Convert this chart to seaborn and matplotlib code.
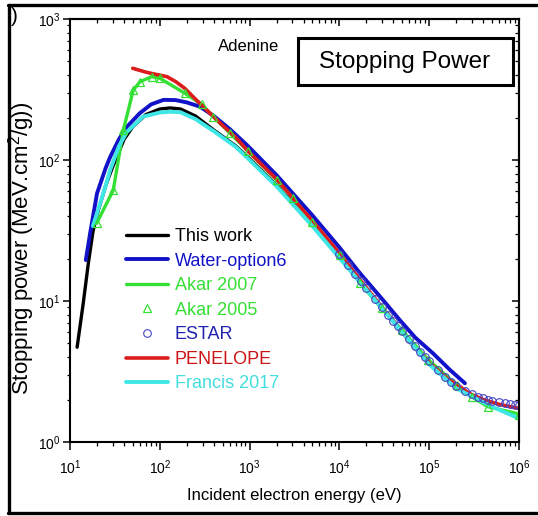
import matplotlib
matplotlib.use("Agg")
import matplotlib.pyplot as plt
import seaborn as sns
from matplotlib.patches import Rectangle
from matplotlib.lines import Line2D
from matplotlib.ticker import LogLocator, NullFormatter

# ---------------- data ----------------
this_work_e = [12, 14, 16, 18, 20, 25, 30, 40, 50, 70, 100, 130, 170, 250, 400, 700,
               1000, 2000, 5000, 1e4, 2e4, 5e4, 1e5, 2e5]
this_work_sp = [4.7, 9.5, 18.5, 31, 41, 66, 90, 140, 172, 210, 230, 234, 230, 205, 163, 126,
                102, 66, 34.5, 20.5, 12.2, 6.1, 3.65, 2.45]

water_e = [15, 17, 20, 25, 28, 35, 43, 60, 80, 110, 150, 200, 280, 400, 600, 930,
           2000, 5000, 1e4, 1.7e4, 3e4, 4.7e4, 7e4, 1.1e5, 1.7e5, 2.5e5]
water_sp = [19.5, 32, 58, 88, 105, 140, 172, 215, 248, 267, 266, 256, 239, 205, 166, 128,
            78, 40.5, 24, 15.7, 10.3, 7.33, 5.5, 4.26, 3.25, 2.61]

akar2007_e = [19.8, 30.3, 39.3, 50.7, 60.2, 81.3, 100, 191, 293, 394, 605, 968, 2000,
              3070, 4910, 1.02e4, 1.69e4, 2.96e4, 4.94e4, 9.77e4, 2.02e5, 2.97e5, 4.5e5, 1e6]
akar2007_sp = [35.6, 61, 163, 314, 359, 390, 380, 297, 248, 203, 155, 115, 72,
               53.5, 36.5, 21.2, 13.4, 8.87, 6.23, 3.82, 2.55, 2.09, 1.78, 1.58]

akar2005_e = [19.8, 30.3, 39.3, 50.7, 60.2, 81.3, 100, 191, 293, 394, 605, 968, 2000,
              3070, 4910, 1.02e4, 1.69e4, 2.96e4, 4.94e4, 9.77e4, 2.02e5, 2.97e5, 4.5e5, 1e6]
akar2005_sp = [35.6, 61, 163, 314, 359, 390, 380, 297, 248, 203, 155, 115, 72,
               53.5, 36.5, 21.2, 13.4, 8.87, 6.23, 3.82, 2.55, 2.09, 1.76, 1.55]

estar_e = [1e4, 1.25e4, 1.5e4, 1.75e4, 2e4, 2.5e4, 3e4, 3.5e4, 4e4, 4.5e4, 5e4, 6e4, 7e4,
           8e4, 9e4, 1e5, 1.25e5, 1.5e5, 1.75e5, 2e5, 2.5e5, 3e5, 3.5e5, 4e5, 4.5e5, 5e5,
           6e5, 7e5, 8e5, 9e5, 1e6]
estar_sp = [21.5, 18.0, 15.5, 13.8, 12.4, 10.4, 9.0, 8.0, 7.2, 6.6, 6.1, 5.35, 4.8,
            4.35, 4.0, 3.75, 3.25, 2.9, 2.65, 2.5, 2.3, 2.2, 2.1, 2.04, 1.99, 1.96,
            1.91, 1.88, 1.86, 1.84, 1.83]

penelope_e = [50, 60, 70, 85, 100, 120, 150, 190, 250, 333, 500, 700, 930, 2000, 5000,
              1e4, 1.7e4, 3e4, 4.7e4, 7e4, 1.1e5, 1.6e5, 2.2e5, 2.8e5, 4e5, 6e5, 1e6]
penelope_sp = [447, 432, 420, 408, 400, 390, 360, 322, 270, 226, 176, 145, 118, 73, 37,
               21.8, 14.1, 9.0, 6.3, 4.6, 3.45, 2.8, 2.47, 2.21, 2.0, 1.85, 1.73]

francis_e = [18, 20, 25, 28, 35, 43, 65, 100, 130, 170, 250, 400, 700, 1000, 2000, 5000,
             1e4, 2e4, 5e4, 1e5, 2e5, 3e5, 5e5, 1e6]
francis_sp = [34, 42, 66, 85, 125, 158, 203, 217, 220, 218, 195, 160, 124, 100, 65, 34,
              20.2, 12.0, 6.0, 3.55, 2.4, 2.1, 1.78, 1.47]

labels = ["This work", "Water-option6", "Akar 2007", "Akar 2005", "ESTAR",
          "PENELOPE", "Francis 2017"]
x_label = "Incident electron energy (eV)"
y_label = "Stopping power (MeV.cm$^2$/g))"
material = "Adenine"
panel_title = "Stopping Power"

# ---------------- style ----------------
sns.set_style("white", {"axes.edgecolor": "black", "xtick.color": "black",
                        "ytick.color": "black", "text.color": "black",
                        "axes.labelcolor": "black"})
plt.rcParams["font.family"] = ["Liberation Sans", "DejaVu Sans"]
plt.rcParams["mathtext.fontset"] = "custom"
plt.rcParams["mathtext.rm"] = "Liberation Sans"
plt.rcParams["mathtext.it"] = "Liberation Sans:italic"
plt.rcParams["mathtext.bf"] = "Liberation Sans:bold"

C_BLACK = "#000000"
C_BLUE = "#1212c8"
C_GREEN = "#33e033"
C_RED = "#dc1c1c"
C_CYAN = "#3fe6e6"
C_ESTAR = "#4444c4"

W, H = 538, 516
fig = plt.figure(figsize=(W / 100, H / 100), dpi=100)
ax = fig.add_axes([70 / W, 1 - 442 / H, 449 / W, 423 / H])
ax.set_xscale("log")
ax.set_yscale("log")

LW = 2.4
sns.lineplot(x=this_work_e, y=this_work_sp, ax=ax, color=C_BLACK, lw=LW,
             label=labels[0], sort=False, estimator=None)
sns.lineplot(x=water_e, y=water_sp, ax=ax, color=C_BLUE, lw=2.8,
             label=labels[1], sort=False, estimator=None)
sns.lineplot(x=akar2007_e, y=akar2007_sp, ax=ax, color=C_GREEN, lw=LW,
             label=labels[2], sort=False, estimator=None)
sns.lineplot(x=penelope_e, y=penelope_sp, ax=ax, color=C_RED, lw=2.6,
             label=labels[5], sort=False, estimator=None)
sns.lineplot(x=francis_e, y=francis_sp, ax=ax, color=C_CYAN, lw=2.8,
             label=labels[6], sort=False, estimator=None)
sns.lineplot(x=akar2005_e, y=akar2005_sp, ax=ax, color=C_GREEN, linestyle="none",
             marker="^", markersize=6, markerfacecolor="none",
             markeredgecolor=C_GREEN, markeredgewidth=0.9,
             label=labels[3], sort=False, estimator=None)
sns.lineplot(x=estar_e, y=estar_sp, ax=ax, color=C_ESTAR, linestyle="none",
             marker="o", markersize=5.5, markerfacecolor="none",
             markeredgecolor=C_ESTAR, markeredgewidth=0.8,
             label=labels[4], sort=False, estimator=None)

ax.set_xlim(10, 1e6)
ax.set_ylim(1, 1000)

# ticks
ax.xaxis.set_major_locator(LogLocator(base=10, numticks=10))
ax.xaxis.set_minor_locator(LogLocator(base=10, subs=range(2, 10), numticks=100))
ax.yaxis.set_major_locator(LogLocator(base=10, numticks=10))
ax.yaxis.set_minor_locator(LogLocator(base=10, subs=range(2, 10), numticks=100))
ax.xaxis.set_minor_formatter(NullFormatter())
ax.yaxis.set_minor_formatter(NullFormatter())
ax.tick_params(axis="x", which="major", bottom=True, top=False, direction="out",
               length=6, width=1.1, labelsize=10, pad=6)
ax.tick_params(axis="x", which="minor", bottom=True, top=False, direction="out",
               length=3, width=0.9)
ax.tick_params(axis="y", which="major", left=True, right=False, direction="out",
               length=5, width=1.1, labelsize=10, pad=2)
ax.tick_params(axis="y", which="minor", left=True, right=False, direction="out",
               length=2.5, width=0.9)
for sp in ax.spines.values():
    sp.set_linewidth(1.5)
    sp.set_color("black")

secx = ax.secondary_xaxis("top")
secx.xaxis.set_major_locator(LogLocator(base=10, numticks=10))
secx.xaxis.set_minor_locator(LogLocator(base=10, subs=range(2, 10), numticks=100))
secx.tick_params(axis="x", which="major", direction="in", length=5, width=1.1,
                 labeltop=False, top=True)
secx.tick_params(axis="x", which="minor", direction="in", length=3, width=0.9,
                 labeltop=False, top=True)
secx.xaxis.set_minor_formatter(NullFormatter())
secx.spines["top"].set_linewidth(1.5)

secy = ax.secondary_yaxis("right")
secy.yaxis.set_major_locator(LogLocator(base=10, numticks=10))
secy.yaxis.set_minor_locator(LogLocator(base=10, subs=range(2, 10), numticks=100))
secy.tick_params(axis="y", which="major", direction="in", length=5, width=1.1,
                 labelright=False, right=True)
secy.tick_params(axis="y", which="minor", direction="in", length=3, width=0.9,
                 labelright=False, right=True)
secy.yaxis.set_minor_formatter(NullFormatter())
secy.spines["right"].set_linewidth(1.5)

# axis labels
ax.set_xlabel(x_label, fontsize=12)
ax.xaxis.set_label_coords(0.5, -0.108)
ax.set_ylabel(y_label, fontsize=16)
ax.yaxis.set_label_coords(-0.074, 0.457)

# legend
handles, labs = ax.get_legend_handles_labels()
hmap = dict(zip(labs, handles))
leg = ax.legend([hmap[l] for l in labels], labels, loc="upper left",
                bbox_to_anchor=(126 / W, 1 - 228 / H), bbox_transform=fig.transFigure,
                frameon=False, fontsize=13, handlelength=2.3, handletextpad=0.4,
                labelspacing=0.42, borderpad=0, borderaxespad=0)
text_colors = [C_BLACK, C_BLUE, C_GREEN, C_GREEN, "#2222b0", "#cc1414", "#44dede"]
for t, c in zip(leg.get_texts(), text_colors):
    t.set_color(c)

# annotations
ax.text(249 / W, 1 - 47 / H, material, transform=fig.transFigure, fontsize=12,
        ha="center", va="center")
fig.add_artist(Rectangle((298 / W, 1 - 85 / H), 215 / W, 47 / H, transform=fig.transFigure,
                         fill=False, ec="black", lw=2.2))
fig.text(405 / W, 1 - 62 / H, panel_title, fontsize=17.5, ha="center", va="center")

# outer frame of the panel
fig.add_artist(Line2D([8 / W, 1], [1 - 5 / H, 1 - 5 / H], transform=fig.transFigure,
                      color="black", lw=2.4))
fig.add_artist(Line2D([8 / W, 1], [1 - 513 / H, 1 - 513 / H], transform=fig.transFigure,
                      color="black", lw=2.4))
fig.add_artist(Line2D([9 / W, 9 / W], [1 - 5 / H, 1 - 513 / H], transform=fig.transFigure,
                      color="black", lw=2.4))
fig.text(14 / W, 1 - 16 / H, ")", fontsize=15, ha="center", va="center")

fig.savefig("out.png", dpi=100)
